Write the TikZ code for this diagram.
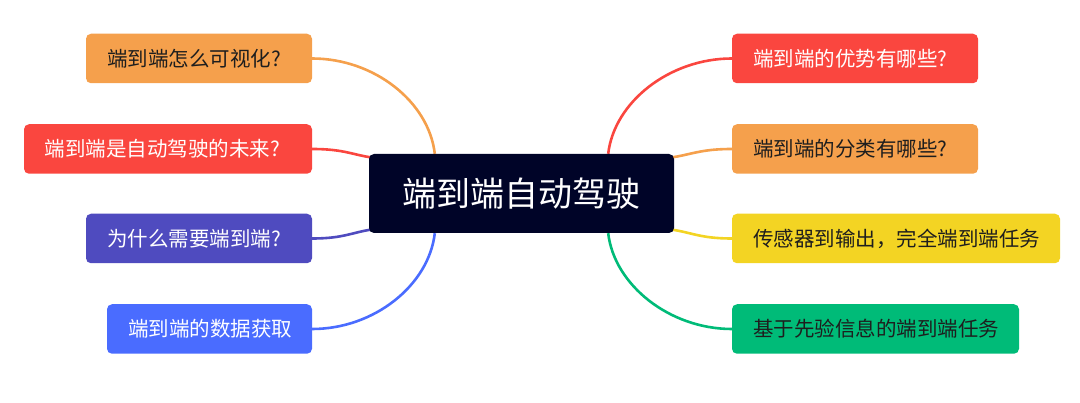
\documentclass[tikz,border=0pt]{standalone}
\usepackage{fontspec}
\newfontfamily\cjk{Noto Sans CJK SC}
\usetikzlibrary{backgrounds}
\definecolor{corange}{HTML}{F5A04C}
\definecolor{cred}{HTML}{FA463F}
\definecolor{cpurple}{HTML}{4F4BBF}
\definecolor{cblue}{HTML}{4A6CFF}
\definecolor{cyellow}{HTML}{F3D423}
\definecolor{cgreen}{HTML}{00BB78}
\definecolor{cnavy}{HTML}{000428}
\definecolor{dtext}{HTML}{1E1E1E}
\begin{document}
\begin{tikzpicture}[x=1pt,y=-1pt,
  box/.style={rounded corners=5pt, inner xsep=21pt, inner ysep=0pt,
    minimum height=49.5pt, align=left,
    font=\cjk\fontsize{20.5}{24}\selectfont},
  root/.style={rounded corners=5pt, fill=cnavy, text=white, inner sep=0pt,
    minimum width=305pt, minimum height=79pt, align=center,
    font=\cjk\fontsize{34}{40}\selectfont},
  link/.style={line width=2.6pt}]
\useasboundingbox (0,0) rectangle (1080,403);

\node[root] (c) at (521.5,193.5) {端到端自动驾驶};

\node[box, fill=corange, text=dtext, text width=184pt] (l1) at (199,58.5) {端到端怎么可视化?};
\node[box, fill=cred, text=white, text width=246pt] (l2) at (168,149) {端到端是自动驾驶的未来?};
\node[box, fill=cpurple, text=white, text width=184pt] (l3) at (199,238.5) {为什么需要端到端?};
\node[box, fill=cblue, text=white, text width=163pt] (l4) at (209.5,329) {端到端的数据获取};

\node[box, fill=cred, text=white, text width=204pt] (r1) at (855,58.5) {端到端的优势有哪些?};
\node[box, fill=corange, text=dtext, text width=204pt] (r2) at (855,149) {端到端的分类有哪些?};
\node[box, fill=cyellow, text=dtext, text width=286pt] (r3) at (896,238.5) {传感器到输出，完全端到端任务};
\node[box, fill=cgreen, text=dtext, text width=245pt] (r4) at (875.5,329) {基于先验信息的端到端任务};

\begin{pgfonlayer}{background}
\draw[link, corange] (l1.east) .. controls +(62,0) and +(-6,-52) .. ([xshift=66pt]c.north west);
\draw[link, cred] (l2.east) .. controls +(32,0) and +(-22,-3) .. ([xshift=5pt,yshift=-4pt]c.north west);
\draw[link, cpurple] (l3.east) .. controls +(32,0) and +(-22,3) .. ([xshift=5pt,yshift=4pt]c.south west);
\draw[link, cblue] (l4.east) .. controls +(62,0) and +(-6,52) .. ([xshift=66pt]c.south west);

\draw[link, cred] (r1.west) .. controls +(-62,0) and +(6,-52) .. ([xshift=-66pt]c.north east);
\draw[link, corange] (r2.west) .. controls +(-32,0) and +(22,-3) .. ([xshift=-5pt,yshift=-4pt]c.north east);
\draw[link, cyellow] (r3.west) .. controls +(-32,0) and +(22,3) .. ([xshift=-5pt,yshift=4pt]c.south east);
\draw[link, cgreen] (r4.west) .. controls +(-62,0) and +(6,52) .. ([xshift=-66pt]c.south east);
\end{pgfonlayer}
\end{tikzpicture}
\end{document}
